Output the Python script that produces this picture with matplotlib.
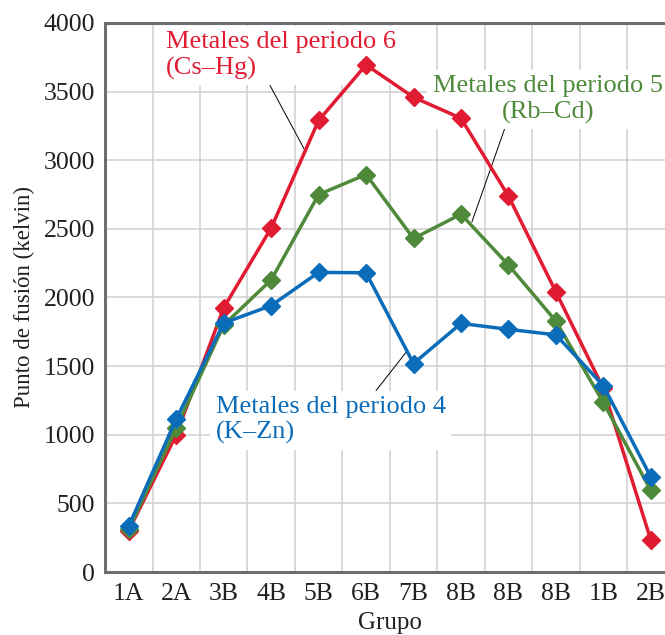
import numpy as np
import matplotlib
matplotlib.use("Agg")
import matplotlib.pyplot as plt

# Melting points (K) of the transition-row metals, by group
groups = ["1A", "2A", "3B", "4B", "5B", "6B", "7B", "8B", "8B", "8B", "1B", "2B"]
period4 = [336, 1115, 1814, 1941, 2183, 2180, 1519, 1811, 1768, 1728, 1358, 693]   # K-Zn
period5 = [312, 1050, 1799, 2128, 2750, 2896, 2430, 2607, 2237, 1828, 1235, 594]   # Rb-Cd
period6 = [302, 1000, 1925, 2506, 3290, 3695, 3459, 3306, 2739, 2041, 1337, 234]   # Cs-Hg

red, green, blue = "#e11b32", "#4f8a3b", "#0b6dba"

plt.rcParams["font.family"] = ["Liberation Serif", "DejaVu Serif"]

fig = plt.figure(figsize=(6.65, 6.35), dpi=100)
ax = fig.add_axes([0.158, 0.0992, 0.8563, 0.8646])

x = np.arange(len(groups))
for vals, c in [(period6, red), (period5, green), (period4, blue)]:
    ax.plot(x, vals, color=c, lw=2.5, marker="D", ms=9.5, mec=c, mfc=c, zorder=3)

ax.set_xlim(-0.5, len(groups) - 0.5)
ax.set_ylim(0, 4000)
ax.set_yticks(np.arange(0, 4001, 500))
ax.set_xticks(x)
ax.set_xticklabels(groups)

# grid: vertical lines sit between the groups
ax.set_xticks(x[:-1] + 0.5, minor=True)
ax.grid(False)
ax.grid(True, which="minor", axis="x", color="#cfcfcf", lw=1.1, zorder=0)
ax.grid(True, which="major", axis="y", color="#cfcfcf", lw=1.1, zorder=0)
ax.set_axisbelow(True)

for side in ["left", "bottom", "top", "right"]:
    ax.spines[side].set_color("#6e6e70")
    ax.spines[side].set_linewidth(2.2)

ax.tick_params(which="both", length=0, labelsize=18.5, colors="#231f20")
ax.tick_params(axis="y", pad=7)
ax.tick_params(axis="x", pad=8)
ax.set_xlabel("Grupo", fontsize=18, color="#231f20", labelpad=5)
ax.set_ylabel("Punto de fusión (kelvin)", fontsize=16.5, color="#231f20", labelpad=6)

# labels sit over the grid but under the data lines
box = dict(facecolor="white", edgecolor="none", pad=4)
ax.annotate("Metales del periodo 6\n(Cs–Hg)", xy=(3.73, 3060), xytext=(0.78, 3940),
            ha="left", va="top", color=red, fontsize=19, bbox=box, zorder=2,
            arrowprops=dict(arrowstyle="-", color="black", lw=0.7,
                            shrinkA=0, shrinkB=0, relpos=(0.44, 0)))
ax.annotate("Metales del periodo 5\n(Rb–Cd)", xy=(7.23, 2550), xytext=(8.83, 3620),
            ha="center", va="top", multialignment="center", color=green,
            fontsize=19, bbox=box, zorder=2,
            arrowprops=dict(arrowstyle="-", color="black", lw=0.7,
                            shrinkA=0, shrinkB=0, relpos=(0.32, 0)))
ax.annotate("Metales del periodo 4\n(K–Zn)", xy=(5.88, 1617), xytext=(1.83, 1285),
            ha="left", va="top", color=blue, fontsize=19, bbox=box, zorder=2,
            arrowprops=dict(arrowstyle="-", color="black", lw=0.7,
                            shrinkA=0, shrinkB=0, relpos=(0.68, 1)))

fig.savefig("out.png", dpi=100)
